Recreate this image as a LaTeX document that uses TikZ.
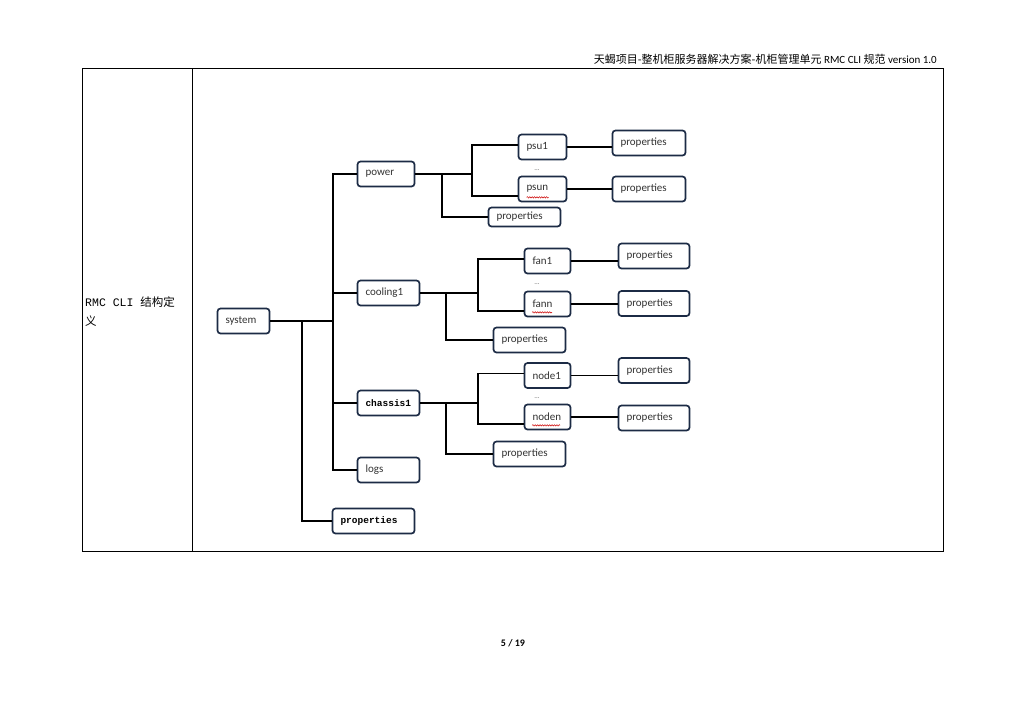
\documentclass[tikz,border=0pt]{standalone}
\usepackage{fontspec}
\setmainfont{Carlito}
\newfontfamily\cjk{Noto Sans CJK SC}
\newfontfamily\songmono{Liberation Mono}
\usetikzlibrary{decorations.pathmorphing}
\definecolor{boxline}{HTML}{1C2B45}
\definecolor{boxtext}{HTML}{333333}

\begin{document}
\begin{tikzpicture}[x=1pt, y=-1pt,
        b/.style={rectangle, draw=boxline, line width=1.7pt, rounded corners=3pt,
                  fill=white, text width=#1, align=left, inner xsep=8pt, inner ysep=0pt,
                  minimum height=25pt, font=\fontsize{11}{13}\selectfont, text=boxtext},
        bm/.style={b=#1, font=\songmono\bfseries\fontsize{9.5}{11}\selectfont, text=black},
        ln/.style={line width=1.5pt, black},
        dots/.style={font=\fontsize{7}{7}\selectfont, text=black!60, inner sep=0pt},
        squig/.style={red!80!black, line width=0.5pt, decorate,
                      decoration={snake, amplitude=0.7pt, segment length=2.4pt}},
        grid/.style={line width=0.8pt, black}]
      \fill[white] (0,0) rectangle (1024,724);

      % page frame
      \node[anchor=base east, inner sep=0pt, font=\fontsize{11}{13}\selectfont] (head) at (937,63)
           {{\cjk 天蝎项目-整机柜服务器解决方案-机柜管理单元} RMC CLI {\cjk 规范} version 1.0};
      \draw[grid] (82,68) rectangle (943,551);
      \draw[grid] (192,68) -- (192,551);
      \node[anchor=north west, inner sep=0pt, align=left,
            font=\songmono\fontsize{11.5}{19}\selectfont] (cell) at (85,297)
           {RMC CLI {\cjk 结构定}\\{\cjk 义}};
      \node[font=\bfseries\fontsize{10}{12}\selectfont] (page) at (513,643) {5 / 19};

      % tree
      \node[b=36pt] (system) at (243.5,321) {system};
      \node[b=41pt] (power) at (386,174) {power};
      \node[b=46pt] (cooling1) at (388.5,293) {cooling1};
      \node[bm=46pt] (chassis1) at (388.5,403) {chassis1};
      \node[b=46pt] (logs) at (388.5,470) {logs};
      \node[bm=66pt] (sysprops) at (373.5,521) {properties};

      \node[b=32pt] (psu1) at (542.5,147) {psu1};
      \node[b=32pt] (psun) at (542.5,189) {psun};
      \node[b=56pt, minimum height=19pt] (pwrprops) at (524.5,217) {properties};
      \node[b=57pt] (psu1props) at (649,143) {properties};
      \node[b=57pt] (psunprops) at (649,189) {properties};

      \node[b=30pt] (fan1) at (547.5,261) {fan1};
      \node[b=30pt] (fann) at (547.5,304) {fann};
      \node[b=55pt] (fan1props) at (654,256) {properties};
      \node[b=55pt] (fannprops) at (654,303.5) {properties};
      \node[b=56pt] (coolprops) at (529.5,340) {properties};

      \node[b=30pt] (node1) at (547.5,375.5) {node1};
      \node[b=30pt] (noden) at (547.5,417) {noden};
      \node[b=55pt] (node1props) at (654,370.5) {properties};
      \node[b=55pt] (nodenprops) at (654,418) {properties};
      \node[b=56pt] (chasprops) at (529.5,454) {properties};

      \node[dots] (psudots) at (537,170) {...};
      \node[dots] (fandots) at (537,284) {...};
      \node[dots] (nodedots) at (537,398) {...};

      \coordinate (sysbus) at (333,321);
      \coordinate (sysfork) at (302,321);
      \coordinate (pwrbus) at (472,174);
      \coordinate (pwrfork) at (442,174);
      \coordinate (coolbus) at (478,293);
      \coordinate (coolfork) at (446,293);
      \coordinate (chasbus) at (478,403);
      \coordinate (chasfork) at (446,403);

      \draw[ln] (system.east) -- (sysbus);
      \draw[ln] (power.west) -| (sysbus) |- (logs.west);
      \draw[ln] (sysbus |- cooling1.west) -- (cooling1.west);
      \draw[ln] (sysbus |- chassis1.west) -- (chassis1.west);
      \draw[ln] (sysfork) |- (sysprops.west);

      \draw[ln] (power.east) -- (pwrbus);
      \draw[ln] ([yshift=2pt]psu1.west) -| (pwrbus) |- ([yshift=-7pt]psun.west);
      \draw[ln] (pwrfork) |- (pwrprops.west);
      \draw[ln] (psu1.east) -- (psu1.east -| psu1props.west);
      \draw[ln] (psun.east) -- (psun.east -| psunprops.west);

      \draw[ln] (cooling1.east) -- (coolbus);
      \draw[ln] ([yshift=2pt]fan1.west) -| (coolbus) |- ([yshift=-7pt]fann.west);
      \draw[ln] (coolfork) |- (coolprops.west);
      \draw[ln] (fan1.east) -- (fan1.east -| fan1props.west);
      \draw[ln] (fann.east) -- (fann.east -| fannprops.west);

      \draw[ln] (chassis1.east) -- (chasbus);
      \draw[ln] ([yshift=2pt]node1.west) -| (chasbus) |- ([yshift=-7pt]noden.west);
      \draw[ln] (chasfork) |- (chasprops.west);
      \draw[ln] (node1.east) -- (node1.east -| node1props.west);
      \draw[ln] (noden.east) -- (noden.east -| nodenprops.west);

      \draw[squig] ([xshift=9pt,yshift=5pt]psun.south west) -- ++(22,0);
      \draw[squig] ([xshift=8.5pt,yshift=5pt]fann.south west) -- ++(20,0);
      \draw[squig] ([xshift=8.5pt,yshift=5pt]noden.south west) -- ++(28,0);
    \end{tikzpicture}
\end{document}
